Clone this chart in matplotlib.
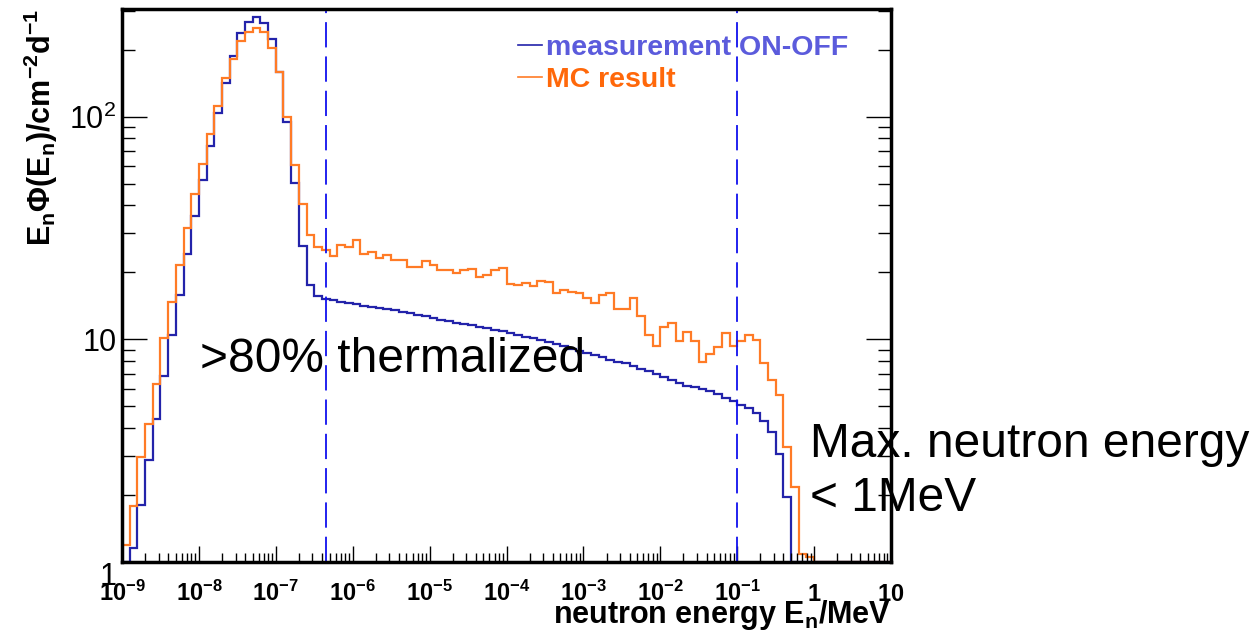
import numpy as np
import matplotlib
matplotlib.use("Agg")
import matplotlib.pyplot as plt
from matplotlib.lines import Line2D
from matplotlib.ticker import LogLocator, NullFormatter

plt.rcParams['font.family'] = ['Liberation Sans', 'DejaVu Sans']
plt.rcParams['mathtext.fontset'] = 'custom'
plt.rcParams['mathtext.rm'] = 'Liberation Sans'
plt.rcParams['mathtext.bf'] = 'Liberation Sans:bold'
plt.rcParams['mathtext.it'] = 'Liberation Sans:italic'

# 10 log bins per decade, 1e-9 .. 10 MeV
bin_edges = np.logspace(-9, 1, 101)

# measurement ON-OFF (blue)
meas = [0.8, 1.15, 1.80, 2.86, 4.41, 6.87, 10.45, 15.9, 24.1, 35.7,
        51.9, 74.1, 103.5, 142, 187.5, 237, 267, 282, 263, 223,
        159, 95, 50.5, 26.2, 17.5, 15.6, 15.2, 15.0, 14.8, 14.6,
        14.4, 14.2, 14.0, 13.85, 13.7, 13.5, 13.3, 13.1, 12.9, 12.7,
        12.45, 12.25, 12.05, 11.9, 11.7, 11.55, 11.35, 11.2, 11.05, 10.9,
        10.7, 10.5, 10.3, 10.1, 9.9, 9.7, 9.5, 9.3, 9.1, 8.9,
        8.7, 8.5, 8.3, 8.1, 7.95, 7.8, 7.6, 7.4, 7.2, 7.0,
        6.8, 6.6, 6.4, 6.2, 6.1, 6.0, 5.89, 5.69, 5.48, 5.29,
        5.08, 4.91, 4.66, 4.32, 3.85, 3.06, 1.96, 0, 0, 0,
        0, 0, 0, 0, 0, 0, 0, 0, 0, 0]

# MC result (orange)
mc = [1.19, 1.78, 2.97, 4.16, 6.3, 10.1, 14.7, 21.6, 31.8, 45.2,
      61.3, 84.1, 111.7, 148.7, 181, 219, 241, 251, 241, 203,
      159, 99.3, 61, 40.7, 29.3, 26.1, 25.1, 23.8, 26.6, 25.9,
      28.0, 24.2, 24.6, 23.3, 23.9, 22.8, 22.8, 21.2, 21.2, 22.6,
      21.6, 20.6, 20.6, 19.8, 20.4, 20.7, 19.0, 19.4, 20.4, 21.0,
      17.7, 17.5, 18.0, 17.3, 18.3, 18.1, 16.2, 16.7, 16.4, 16.1,
      15.3, 14.5, 15.8, 16.2, 13.7, 13.7, 15.3, 12.8, 10.5, 9.35,
      11.4, 11.8, 9.84, 10.8, 9.84, 7.94, 8.6, 9.25, 10.7, 9.35,
      9.85, 10.45, 9.95, 7.81, 6.6, 5.6, 3.29, 2.18, 1.09, 1.05,
      0, 0, 0, 0, 0, 0, 0, 0, 0, 0]

cut_lines = [4.5e-7, 0.1]
x_ticks = 10.0 ** np.arange(-9, 2)
x_tick_labels = [r'$\mathbf{10^{-9}}$', r'$\mathbf{10^{-8}}$', r'$\mathbf{10^{-7}}$',
                 r'$\mathbf{10^{-6}}$', r'$\mathbf{10^{-5}}$', r'$\mathbf{10^{-4}}$',
                 r'$\mathbf{10^{-3}}$', r'$\mathbf{10^{-2}}$', r'$\mathbf{10^{-1}}$',
                 r'$\mathbf{1}$', r'$\mathbf{10}$']
y_ticks = [1, 10, 100]
y_tick_labels = ['1', '10', r'$\mathregular{10^{2}}$']

ymin, ymax = 1.0, 305.0
blue = '#2323aa'
orange = '#ff7b26'

fig = plt.figure(figsize=(12.54, 6.37), dpi=100)
ax = fig.add_axes([122/1254, 1-562/637, 769/1254, 553/637])

ax.set_xscale('log')
ax.set_yscale('log')
ax.set_xlim(1e-9, 10)
ax.set_ylim(ymin, ymax)

# empty / tiny bins are drawn on the frame like ROOT does
ax.stairs(np.clip(meas, ymin, None), bin_edges, baseline=ymin, color=blue, lw=1.6)
ax.stairs(np.clip(mc, ymin, None), bin_edges, baseline=ymin, color=orange, lw=1.6)

for xc in cut_lines:
    ax.axvline(xc, color='#1010ee', lw=1.3, dashes=(14, 5))

# ticks, ROOT style
ax.set_xticks(x_ticks)
ax.set_xticklabels(x_tick_labels)
ax.xaxis.set_minor_locator(LogLocator(base=10, subs=np.arange(2, 10), numticks=200))
ax.xaxis.set_minor_formatter(NullFormatter())
ax.set_yticks(y_ticks)
ax.set_yticklabels(y_tick_labels)
ax.yaxis.set_minor_locator(LogLocator(base=10, subs=np.arange(2, 10), numticks=200))
ax.yaxis.set_minor_formatter(NullFormatter())

ax.tick_params(axis='x', which='major', direction='in', length=11.5, width=1,
               labelsize=17, pad=28, top=False)
ax.tick_params(axis='x', which='minor', direction='in', length=6.5, width=1, top=False)
ax.tick_params(axis='y', which='major', direction='in', length=18, width=1,
               labelsize=22, pad=4, right=True)
ax.tick_params(axis='y', which='minor', direction='in', length=9.5, width=1, right=True)
for lab in ax.get_xticklabels():
    lab.set_verticalalignment('baseline')
ax.get_yticklabels()[0].set_verticalalignment('top')

for sp in ax.spines.values():
    sp.set_linewidth(2.5)

ax.set_xlabel(r'neutron energy E$_{\mathbf{n}}$/MeV', fontweight='bold', fontsize=22,
              loc='right', labelpad=-6)
ax.set_ylabel(r'E$_{\mathbf{n}}$Φ(E$_{\mathbf{n}}$)/cm$^{\mathbf{-2}}$d$^{\mathbf{-1}}$',
              fontweight='bold', fontsize=22, loc='top', labelpad=7)

handles = [Line2D([], [], color=blue, lw=1.2), Line2D([], [], color=orange, lw=1.2)]
ax.legend(handles, ['measurement ON-OFF', 'MC result'], loc='upper left',
          bbox_to_anchor=((518-122)/769, (562-35)/553), frameon=False,
          prop={'weight': 'bold', 'size': 20.5}, handlelength=0.85, handletextpad=0.12,
          labelspacing=0.22, borderpad=0, borderaxespad=0,
          labelcolor=['#5b5bdc', '#ff680a'])

fig.text(200/1254, 1-372/637, '>80% thermalized', fontsize=34.5, va='baseline', ha='left')
fig.text(810/1254, 1-457/637, 'Max. neutron energy', fontsize=34.5, va='baseline', ha='left')
fig.text(810/1254, 1-511/637, '< 1MeV', fontsize=34.5, va='baseline', ha='left')

fig.savefig('out.png', dpi=100)
